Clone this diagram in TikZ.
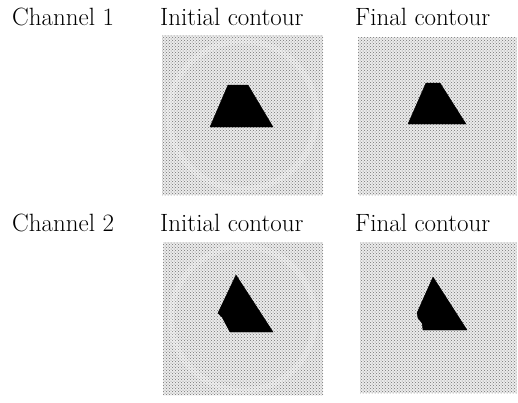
\documentclass[tikz,border=0pt]{standalone}
\usetikzlibrary{patterns}
\begin{document}
\begin{tikzpicture}[x=1pt,y=-1pt,
  lbl/.style={font=\fontsize{25}{30}\selectfont, anchor=base west, inner sep=0pt},
  panel/.style={fill=black!8, postaction={pattern=crosshatch dots, pattern color=black!55}},
  ring/.style={draw=white, opacity=0.2, line width=6pt},
  blob/.style={fill=black, draw=black, line join=round}]
\useasboundingbox (0,0) rectangle (518,402);

% column and row labels
\node[lbl] (c1) at (12,25) {Channel 1};
\node[lbl] (i1) at (160,25) {Initial contour};
\node[lbl] (f1) at (355,25) {Final contour};
\node[lbl] (c2) at (12,231) {Channel 2};
\node[lbl] (i2) at (160,231) {Initial contour};
\node[lbl] (f2) at (355,231) {Final contour};

% channel 1, initial contour
\fill[panel] (162,35) rectangle (323,195);
\draw[ring] (242.5,115) circle (74);
\filldraw[blob] (228,85) -- (248,85) -- (273,127) -- (210,127) -- cycle;

% channel 1, final contour
\fill[panel] (358,37) rectangle (517,195);
\filldraw[blob] (426,83) -- (440,83) -- (466,124) -- (408,124) -- cycle;

% channel 2, initial contour
\fill[panel] (163,242) rectangle (323,395);
\draw[ring] (243,318.5) circle (72);
\filldraw[blob] (236,275) -- (273,332) -- (230,332) -- (222,317) -- (218,313) -- cycle;

% channel 2, final contour
\fill[panel] (360,242) rectangle (517,393);
\filldraw[blob] (433,277) -- (467,330) -- (423,330) -- (422,323) -- (418,318) -- (417,313) -- cycle;
\end{tikzpicture}
\end{document}
